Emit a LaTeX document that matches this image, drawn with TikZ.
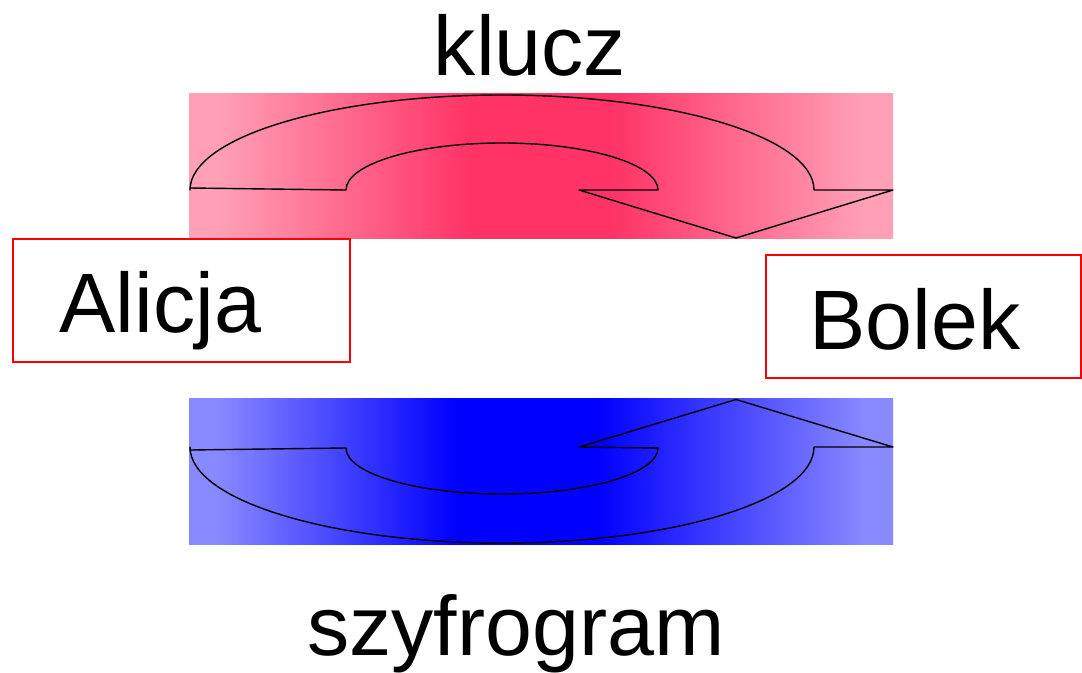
\documentclass[tikz,border=0pt]{standalone}
\usepackage{fontspec}
\setmainfont{Liberation Sans}
\usetikzlibrary{math}

\definecolor{keyedge}{RGB}{255,160,182}
\definecolor{keymid}{RGB}{255,51,102}
\definecolor{cipheredge}{RGB}{137,137,255}
\definecolor{ciphermid}{RGB}{0,0,255}

% band fills, flat in the middle
\pgfdeclarehorizontalshading{keyband}{100bp}{color(0bp)=(keyedge); color(27bp)=(keyedge);
    color(45bp)=(keymid); color(55bp)=(keymid); color(73bp)=(keyedge); color(100bp)=(keyedge)}
\pgfdeclarehorizontalshading{cipherband}{100bp}{color(0bp)=(cipheredge); color(27bp)=(cipheredge);
    color(44bp)=(ciphermid); color(54bp)=(ciphermid); color(73bp)=(cipheredge); color(100bp)=(cipheredge)}

\begin{document}
\begin{tikzpicture}[line width=0.4pt,
    namebox/.style={draw=red, line width=0.6pt, minimum height=1.23cm, inner sep=0pt},
    bigtext/.style={inner sep=0pt, font=\fontsize{24}{28}\selectfont},
    arrowline/.style={draw=black, line width=0.4pt, line join=round}]
    \tikzmath{
        \bandleft=1.89;
        \bandright=8.93;
        \bandheight=1.455;
        \keybottom=4.33;
        \cipherbottom=1.28;
        \arcx=5.02;
        \outerrx=3.12;
        \innerrx=1.56;
    }
    \useasboundingbox (0, 0) rectangle (10.82, 6.72);

    % klucz band
    \shade [shading=keyband]
        (\bandleft, \keybottom) rectangle (\bandright, \keybottom+\bandheight);
    \draw [arrowline] (\arcx-\outerrx, 4.84) -- (\arcx-\innerrx, 4.82)
        arc [start angle=180, end angle=0, x radius=\innerrx, y radius=0.47]
        -- (5.79, 4.82) -- (7.36, \keybottom+0.01) -- (\bandright, 4.82) -- (\arcx+\outerrx, 4.82)
        arc [start angle=0, end angle=180, x radius=\outerrx, y radius=0.95] -- cycle;

    % szyfrogram band
    \shade [shading=cipherband]
        (\bandleft, \cipherbottom) rectangle (\bandright, \cipherbottom+\bandheight);
    \draw [arrowline] (\arcx-\outerrx, 2.22) -- (\arcx-\innerrx, 2.24)
        arc [start angle=180, end angle=360, x radius=\innerrx, y radius=0.46]
        -- (5.79, 2.25) -- (7.36, \cipherbottom+\bandheight-0.01) -- (\bandright, 2.25) -- (\arcx+\outerrx, 2.25)
        arc [start angle=0, end angle=-180, x radius=\outerrx, y radius=0.96] -- cycle;

    % boxes
    \node [namebox, minimum width=3.37cm] (alicjabox) at (1.815, 3.715) {};
    \node [namebox, minimum width=3.15cm] (bolekbox) at (9.235, 3.555) {};

    % labels
    \node [bigtext, anchor=base west] (alicja) at (0.59, 3.39) {Alicja};
    \node [bigtext, anchor=base west] (bolek) at (8.09, 3.22) {Bolek};
    \node [bigtext, anchor=base] (klucz) at (5.30, 5.97) {klucz};
    \node [bigtext, anchor=base] (szyfrogram) at (5.16, 0.17) {szyfrogram};
\end{tikzpicture}
\end{document}
